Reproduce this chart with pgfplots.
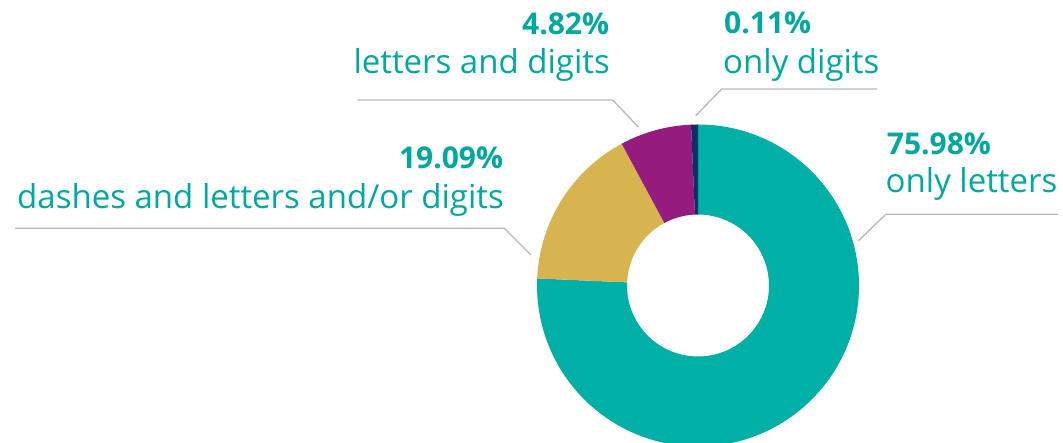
\documentclass[border=0pt]{standalone}
\usepackage{pgfplots}
\usepackage{pgfplotstable}
\pgfplotsset{compat=1.18}
\usepackage{fontspec}
\setmainfont{Open Sans}
\definecolor{cTeal}{HTML}{00AFA5}
\definecolor{cYellow}{HTML}{D8B450}
\definecolor{cPurple}{HTML}{951B7D}
\definecolor{cNavy}{HTML}{0E2D6B}
\definecolor{cText}{HTML}{00A99D}
\definecolor{cGray}{HTML}{B8B8B8}

% drawn share of each segment (clockwise from 12 o'clock)
\pgfplotstableread{
share color
75.70 cTeal
16.44 cYellow
7.17 cPurple
0.69 cNavy
}\donutdata

\begin{document}
\begin{tikzpicture}
\useasboundingbox (0,0) rectangle (1063pt,443pt);
\begin{axis}[
  x=1pt, y=1pt,
  xmin=0, xmax=1063, ymin=0, ymax=443,
  hide axis, clip=true,
]
\def\cx{698}\def\cy{157.5}\def\Ro{161}\def\Ri{71}
\pgfplotstablegetrowsof{\donutdata}
\pgfmathtruncatemacro\nrows{\pgfplotsretval-1}
\def\startang{90}
\pgfplotsforeachungrouped \i in {0,...,\nrows}{
  \pgfplotstablegetelem{\i}{share}\of\donutdata \let\val\pgfplotsretval
  \pgfplotstablegetelem{\i}{color}\of\donutdata \let\col\pgfplotsretval
  \pgfmathsetmacro\endang{\startang-3.6*\val}
  \pgfmathsetmacro\xa{\cx+\Ro*cos(\startang)}
  \pgfmathsetmacro\ya{\cy+\Ro*sin(\startang)}
  \pgfmathsetmacro\xb{\cx+\Ri*cos(\endang)}
  \pgfmathsetmacro\yb{\cy+\Ri*sin(\endang)}
  \edef\temp{\noexpand\fill[\col] (axis cs:\xa,\ya) arc[start angle=\startang, end angle=\endang, radius=\Ro pt] -- (axis cs:\xb,\yb) arc[start angle=\endang, end angle=\startang, radius=\Ri pt] -- cycle;}
  \temp
  \global\let\startang\endang
}
% leader lines
\addplot[draw=cGray, line width=1.3pt] coordinates {(1058,228.7) (885.7,228.7) (858.3,202)};
\addplot[draw=cGray, line width=1.3pt] coordinates {(877,354) (721.7,354) (695.7,327.3)};
\addplot[draw=cGray, line width=1.3pt] coordinates {(357.3,343) (612.7,343) (638.3,316)};
\addplot[draw=cGray, line width=1.3pt] coordinates {(15,214.7) (504.3,214.7) (531,188)};
% labels
\tikzset{lbl/.style={inner sep=0pt, text=cText, font=\fontsize{33}{38}\selectfont},
         num/.style={inner sep=0pt, text=cText, font=\fontsize{30}{36}\selectfont\bfseries}}
\node[num, anchor=base west] at (axis cs:886.7,288.7) {75.98\%};
\node[lbl, anchor=base west] at (axis cs:885.5,250.3) {only letters};
\node[num, anchor=base west] at (axis cs:724,409) {0.11\%};
\node[lbl, anchor=base west] at (axis cs:723,369) {only digits};
\node[num, anchor=base east] at (axis cs:609.3,408) {4.82\%};
\node[lbl, anchor=base east] at (axis cs:610,369.7) {letters and digits};
\node[num, anchor=base east] at (axis cs:503.3,274.7) {19.09\%};
\node[lbl, anchor=base east] at (axis cs:504,234.7) {dashes and letters and/or digits};
\end{axis}
\end{tikzpicture}
\end{document}
